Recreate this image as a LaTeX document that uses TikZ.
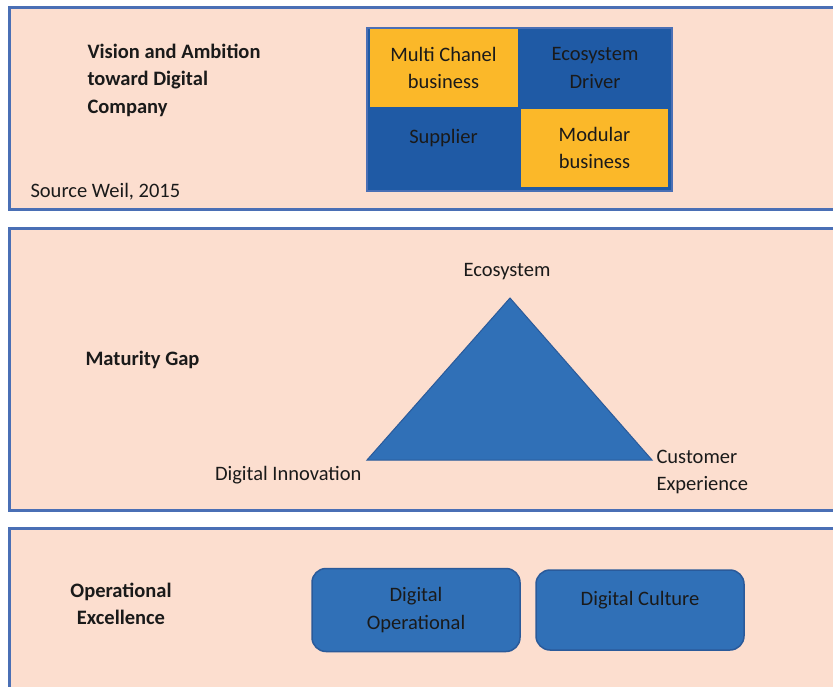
\documentclass[tikz,border=0pt]{standalone}
\usepackage{fontspec}
\setmainfont{Carlito}
\definecolor{peach}{HTML}{FCDECF}
\definecolor{frame}{HTML}{4A6FB5}
\definecolor{darkblue}{HTML}{1F5AA5}
\definecolor{midblue}{HTML}{3070B7}
\definecolor{edgeblue}{HTML}{2A5A9A}
\definecolor{gold}{HTML}{FBB829}
\definecolor{ink}{HTML}{1A1A1A}
\newcommand{\fsz}{\fontsize{20.5}{27.5}\selectfont}
\tikzset{
  panel/.style={fill=peach, draw=frame, line width=3pt},
  cell/.style={minimum width=148pt, minimum height=78pt, inner sep=0pt, align=center, text=ink},
  title/.style={font=\fsz\bfseries, text=ink, align=left, anchor=west},
  plain/.style={font=\fsz, text=ink, align=left},
  rbox/.style={fill=midblue, draw=edgeblue, line width=1.5pt, rounded corners=14pt, inner sep=0pt, align=center, text=ink},
}
\begin{document}
\begin{tikzpicture}[x=1pt, y=-1pt, font=\fsz]
\useasboundingbox (0,0) rectangle (833,687);
\clip (0,0) rectangle (833,687);
\fill[white] (0,0) rectangle (833,687);
% panels
\draw[panel] (9,8) rectangle (845,210);
\draw[panel] (9,229) rectangle (845,510);
\draw[panel] (9,528) rectangle (845,700);

% panel 1
\node[title] (vision) at (84,80) {Vision and Ambition\\toward Digital\\Company};
\node[plain, anchor=west] (source) at (27,192) {Source Weil, 2015};
\node[fill=darkblue, draw=frame, line width=2pt, minimum width=305pt, minimum height=163pt, inner sep=0pt] (quad) at (519.5,109.5) {};
\node[cell, fill=gold] (multi) at (443.5,68) {Multi Chanel\\business};
\node[cell] (eco) at (595,68) {Ecosystem\\Driver};
\node[font=\fsz, text=ink] (supp) at (443.5,138) {Supplier};
\node[cell, fill=gold, minimum width=147pt] (modular) at (594.5,148) {Modular\\business};

% panel 2
\node[title] (gap) at (82,360) {Maturity Gap};
\coordinate (apex) at (510,298);
\coordinate (left) at (367,460);
\coordinate (right) at (652,460);
\draw[fill=midblue, draw=edgeblue, line width=1pt, line join=miter] (apex) -- (left) -- (right) -- cycle;
\node[plain] (ecosys) at (507,272) {Ecosystem};
\node[plain, anchor=east] (innov) at (365,475) {Digital Innovation};
\node[plain, anchor=west] (cust) at (653,472) {Customer\\Experience};

% panel 3
\node[font=\fsz\bfseries, text=ink, align=center] (opex) at (121,604) {Operational\\Excellence};
\node[rbox, minimum width=208pt, minimum height=83pt] (dop) at (416,610) {Digital\\Operational};
\node[rbox, minimum width=208pt, minimum height=80pt] (dcul) at (640,610) {};
\node[text=ink] (dcultxt) at (640,600) {Digital Culture};
\end{tikzpicture}
\end{document}
